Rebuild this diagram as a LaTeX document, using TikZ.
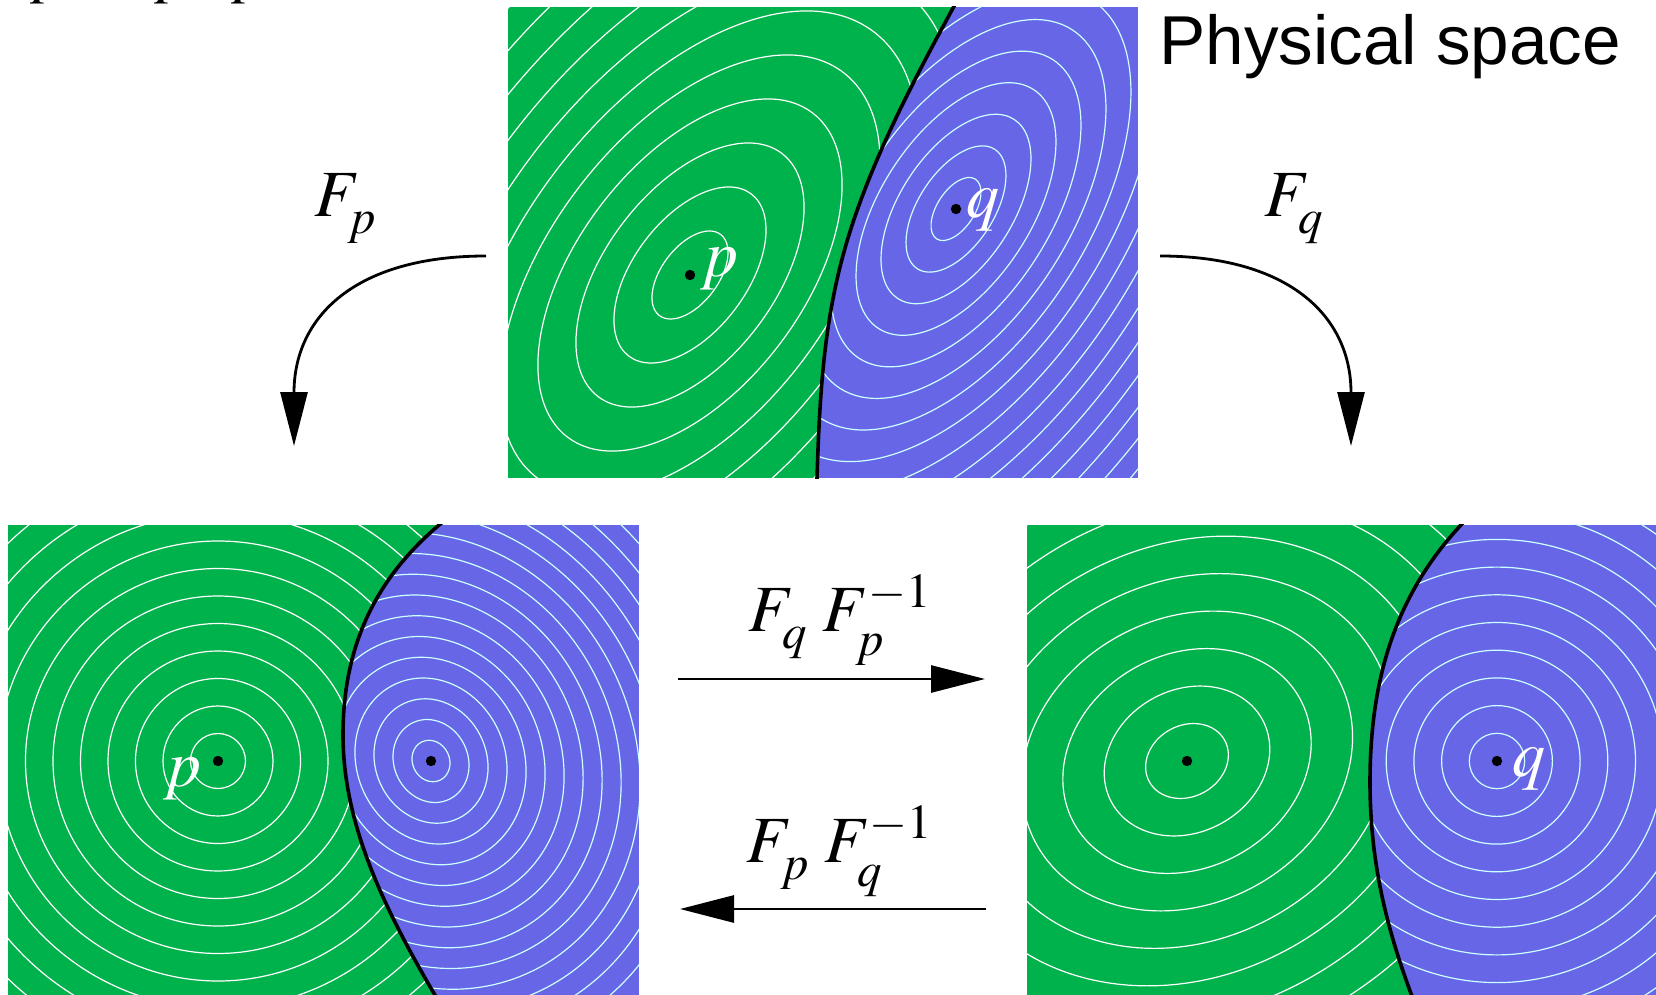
\documentclass[tikz,border=0pt]{standalone}
\usepackage{mathptmx}
\usepackage[no-math]{fontspec}
\setsansfont{Liberation Sans}
\usetikzlibrary{arrows.meta}

\definecolor{regp}{RGB}{0,178,76}
\definecolor{regq}{RGB}{102,102,230}
\definecolor{qline}{RGB}{205,255,255}
\newcommand{\lowsub}[1]{_{\raisebox{-4pt}{$\scriptstyle #1$}}}

\begin{document}
\begin{tikzpicture}[x=0.5pt,y=-0.5pt,>={Triangle[length=27pt,width=13.5pt]},
  ctr/.style={line width=0.6pt,white},
  ctrq/.style={line width=0.6pt,qline},
  border/.style={line width=1.8pt,black},
  map/.style={line width=1.4pt,->},
  lab/.style={inner sep=0pt,font=\fontsize{33}{40}\selectfont},
  site/.style={circle,fill=black,inner sep=0pt,minimum size=5.2pt}]
  \useasboundingbox (0,0) rectangle (1656,995);

  \node[lab,anchor=base west] (cut1) at (30,-9) {$p$};
  \node[lab,anchor=base west] (cut2) at (154,-9) {$p$};
  \node[lab,anchor=base west] (cut3) at (231,-9) {$p$};

  % physical space
  \begin{scope}
    \clip (508,7) rectangle (1138,478);
    \fill[regp] (508,7) rectangle (1138,478);
    \foreach \k in {1,...,16}
      \draw[ctr,rotate around={53:(690,275)}] (690,275) ellipse[x radius=50.8*\k,y radius=28.3*\k];
    \begin{scope}
      \clip (964,-12) .. controls (913,81) and (863,174) .. (840,267) .. controls (821,343) and (818.8,419) .. (816.5,495)
        -- (1200,495) -- (1200,-12) -- cycle;
      \fill[regq] (508,7) rectangle (1138,478);
      \foreach \k in {1,...,22}
        \draw[ctrq,rotate around={57:(956,209)}] (956,209) ellipse[x radius=35.6*\k,y radius=18.8*\k];
    \end{scope}
    \draw[border] (964,-12) .. controls (913,81) and (863,174) .. (840,267) .. controls (821,343) and (818.8,419) .. (816.5,495);
  \end{scope}

  % space of F_p
  \begin{scope}
    \clip (8,524.5) rectangle (639,995);
    \fill[regp] (8,524.5) rectangle (639,995);
    \foreach \k in {1,...,13}
      \draw[ctr] (218,761) circle[radius=27.5*\k];
    \begin{scope}
      \clip (465,505) .. controls (380,565) and (343,640) .. (343,735) .. controls (343,830) and (390,920) .. (445,1012)
        -- (700,1012) -- (700,505) -- cycle;
      \fill[regq] (8,524.5) rectangle (639,995);
      \foreach \k in {1,...,18}
        \draw[ctrq,rotate around={-65:(431,761)}] (431,761) ellipse[x radius=21.2*\k,y radius=18.5*\k];
    \end{scope}
    \draw[border] (465,505) .. controls (380,565) and (343,640) .. (343,735) .. controls (343,830) and (390,920) .. (445,1012);
  \end{scope}

  % space of F_q
  \begin{scope}
    \clip (1027,524.5) rectangle (1656,995);
    \fill[regp] (1027,524.5) rectangle (1656,995);
    \foreach \k in {1,...,11}
      \draw[ctr,rotate around={29:(1187,761)}] (1187,761) ellipse[x radius=43*\k,y radius=35.6*\k];
    \begin{scope}
      \clip (1481,505) .. controls (1400,580) and (1370,670) .. (1370,782) .. controls (1370,870) and (1390,940) .. (1418,1012)
        -- (1700,1012) -- (1700,505) -- cycle;
      \fill[regq] (1027,524.5) rectangle (1656,995);
      \foreach \k in {1,...,11}
        \draw[ctrq] (1497,761) circle[radius=27.7*\k];
    \end{scope}
    \draw[border] (1481,505) .. controls (1400,580) and (1370,670) .. (1370,782) .. controls (1370,870) and (1390,940) .. (1418,1012);
  \end{scope}

  \node[site] (p0) at (690,275) {};
  \node[site] (q0) at (956,209) {};
  \node[site] (p1) at (218,761) {};
  \node[site] (q1) at (431,761) {};
  \node[site] (p2) at (1187,761) {};
  \node[site] (q2) at (1497,761) {};
  \node[lab,white,anchor=base west] (p0lab) at (700,276) {$p$};
  \node[lab,white,anchor=base west] (q0lab) at (966,218) {$q$};
  \node[lab,white,anchor=base west] (p1lab) at (163,786) {$p$};
  \node[lab,white,anchor=base west] (q2lab) at (1512,776) {$q$};

  \node[lab,anchor=base west] (phys) at (1159,64.5) {\sffamily\fontsize{34.6}{40}\selectfont Physical space};

  \node[lab,anchor=base west] (Fp) at (314,216) {$F\lowsub{p}$};
  \node[lab,anchor=base west] (Fq) at (1264,216) {$F\lowsub{q}$};
  \coordinate (fpS) at (486,256);
  \coordinate (fpE) at (294,446);
  \coordinate (fqS) at (1160,256);
  \coordinate (fqE) at (1351,446);
  \draw[map] (fpS) .. controls (355,256) and (294,317) .. (fpE);
  \draw[map] (fqS) .. controls (1290,256) and (1351,317) .. (fqE);

  \node[lab,anchor=base] (Fqp) at (840,631) {$F\lowsub{q}\;F\lowsub{p}^{-1}$};
  \node[lab,anchor=base] (Fpq) at (840,862) {$F\lowsub{p}\;F\lowsub{q}^{-1}$};
  \coordinate (toqS) at (678,679);
  \coordinate (toqE) at (985,679);
  \coordinate (topS) at (986,909);
  \coordinate (topE) at (680,909);
  \draw[map] (toqS) -- (toqE);
  \draw[map] (topS) -- (topE);
\end{tikzpicture}
\end{document}
